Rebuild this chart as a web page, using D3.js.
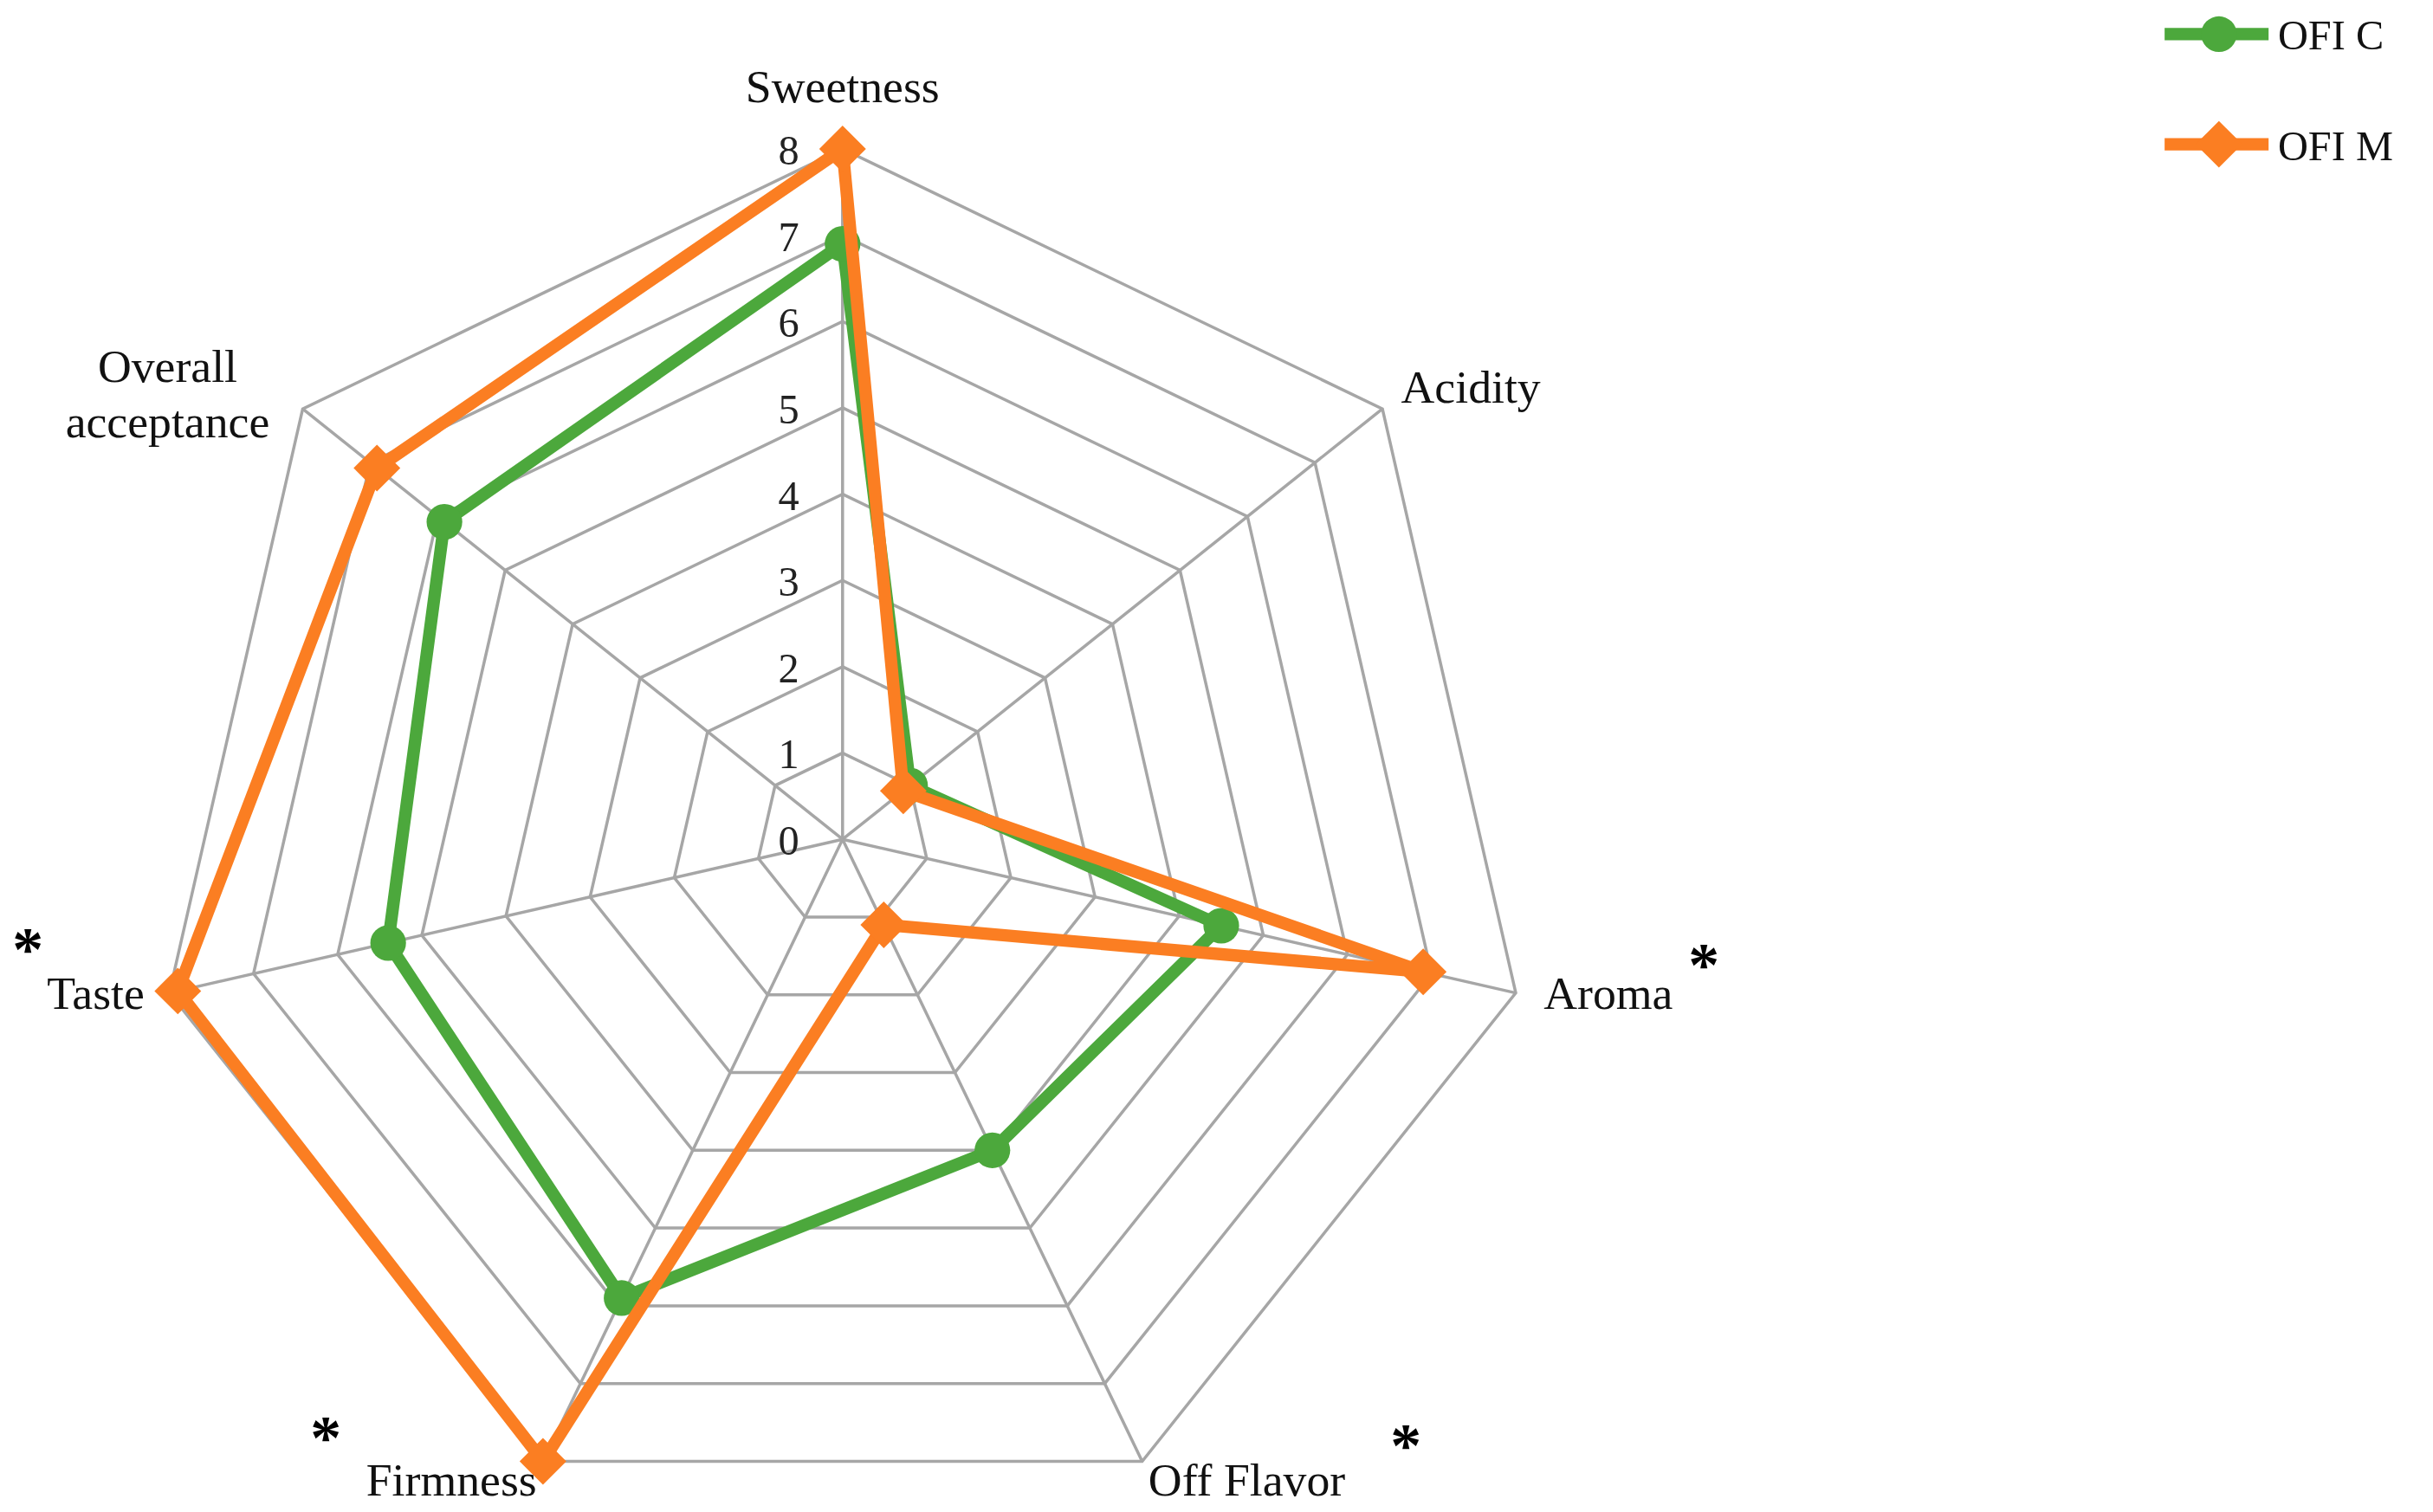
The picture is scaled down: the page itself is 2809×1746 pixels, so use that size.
<!DOCTYPE html>
<html><head><meta charset="utf-8">
<script src="https://cdn.jsdelivr.net/npm/d3@7"></script>
<style>body{margin:0;background:#fff}</style>
</head><body>
<svg id="c" width="2809" height="1746"></svg>
<script>
const categories = ["Sweetness","Acidity","Aroma","Off Flavor","Firmness","Taste","Overall acceptance"];
const starred = [false,false,true,true,true,true,false];
const ofiC = [6.9,1.0,4.5,4.0,5.9,5.4,5.9];
const ofiM = [8.0,0.9,6.9,1.1,8.0,7.9,6.9];
const tickLabels = [0,1,2,3,4,5,6,7,8];

const svg = d3.select("#c");
const S = 1.7915;
const cx = 543*S, cy = 541*S, R = 445*S;
const r = d3.scaleLinear().domain([0,8]).range([0,R]);
const n = categories.length;
const ang = i => i*2*Math.PI/n;
const pt = (i,v) => [cx + r(v)*Math.sin(ang(i)), cy - r(v)*Math.cos(ang(i))];
const font = "'Liberation Serif','DejaVu Serif',serif";
const gray = "#a6a6a6";

// grid
tickLabels.slice(1).forEach(t=>{
  svg.append("path").attr("d", d3.line()(d3.range(n).map(i=>pt(i,t)))+"Z")
    .attr("fill","none").attr("stroke",gray).attr("stroke-width",3.5);
});
d3.range(n).forEach(i=>{
  const [x,y]=pt(i,8);
  svg.append("line").attr("x1",cx).attr("y1",cy).attr("x2",x).attr("y2",y)
    .attr("stroke",gray).attr("stroke-width",3.5);
});
// tick labels
tickLabels.forEach(t=>{
  svg.append("text").attr("x",cx-28*S).attr("y",cy-r(t)+10*S).attr("text-anchor","end")
    .attr("font-family",font).attr("font-size",27*S).attr("fill","#222").text(t);
});
// category labels
const off = [[0,-30,"middle"],[12,-4,"start"],[18,10,"start"],[4,22,"start"],[-4,22,"end"],[-16,10,"end"],[0,-40,"middle"]];
categories.forEach((c,i)=>{
  const [x,y]=pt(i,8);
  const t = svg.append("text").attr("x",x+off[i][0]*S).attr("y",y+off[i][1]*S).attr("text-anchor",off[i][2])
    .attr("font-family",font).attr("font-size",30*S).attr("fill","#111");
  if(i===6){
    t.attr("x",108*S).attr("y",246*S);
    t.append("tspan").attr("x",108*S).text("Overall");
    t.append("tspan").attr("x",108*S).attr("dy",36*S).text("acceptance");
  } else t.text(c);
});
// asterisks
const ast = [[null],[null],[1098,635],[906,945],[210,940],[18,625],[null]];
ast.forEach(a=>{ if(a[0]!=null) svg.append("text").attr("x",a[0]*S).attr("y",a[1]*S).attr("text-anchor","middle")
  .attr("font-family",font).attr("font-size",40*S).attr("font-weight","bold").attr("fill","#000").text("*");});

const green="#4ca83c", orange="#fb7e22";
function series(vals,color,shape){
  const pts = vals.map((v,i)=>pt(i,v));
  svg.append("path").attr("d",d3.line()(pts)+"Z").attr("fill","none").attr("stroke",color)
    .attr("stroke-width",8*S).attr("stroke-linejoin","round");
  pts.forEach(p=>marker(p[0],p[1],color,shape));
}
function marker(x,y,color,shape){
  if(shape==="circle") svg.append("circle").attr("cx",x).attr("cy",y).attr("r",11.5*S).attr("fill",color);
  else svg.append("path").attr("d",d3.symbol(d3.symbolDiamond2,(34*S)*(34*S)/2)())
    .attr("transform",`translate(${x},${y})`).attr("fill",color);
}
series(ofiC,green,"circle");
series(ofiM,orange,"diamond");

// legend
[["OFI C",green,"circle",22],["OFI M",orange,"diamond",93]].forEach(([lab,col,sh,y])=>{
  svg.append("line").attr("x1",1395*S).attr("x2",1462*S).attr("y1",y*S).attr("y2",y*S)
    .attr("stroke",col).attr("stroke-width",8*S);
  marker(1430*S,y*S,col,sh==="circle"?"circle":"diamond");
  svg.append("text").attr("x",1468*S).attr("y",(y+10)*S).attr("font-family",font)
    .attr("font-size",27*S).attr("fill","#111").text(lab);
});
</script>
</body></html>
